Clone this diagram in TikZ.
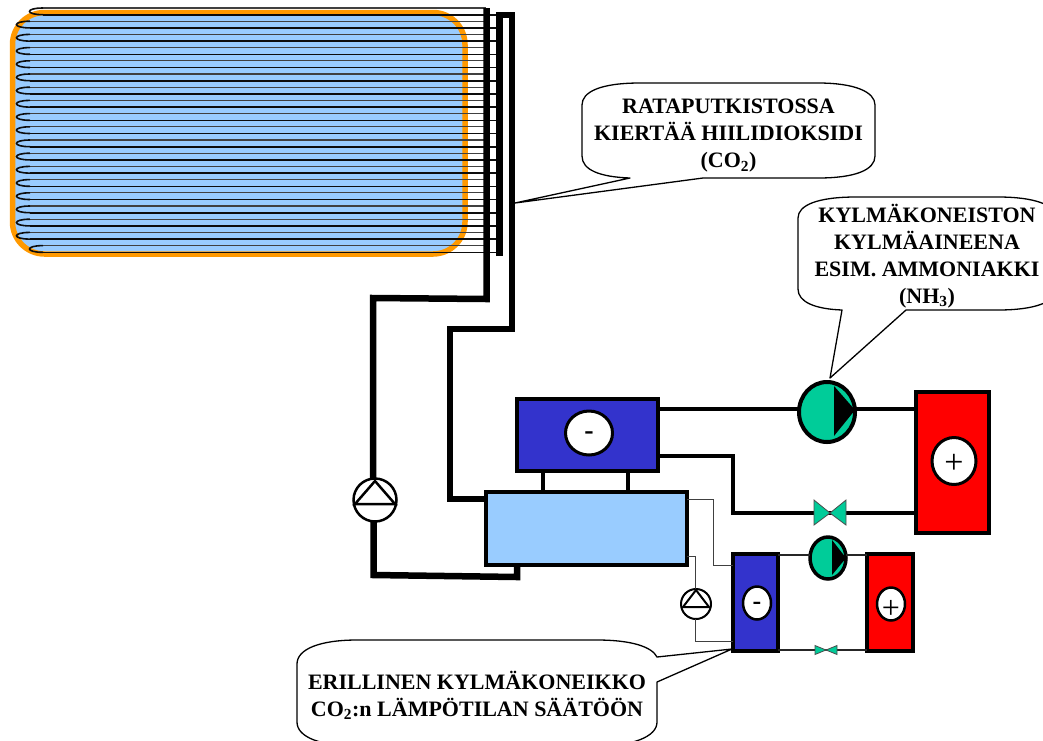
\documentclass[tikz,border=0pt]{standalone}
\usepackage{fontspec}
\setmainfont{Liberation Serif}
\usetikzlibrary{shapes.geometric}
\definecolor{panelblue}{HTML}{99CCFF}
\definecolor{edgeorange}{HTML}{FF9900}
\definecolor{deepblue}{HTML}{3333CC}
\definecolor{hotred}{HTML}{FF0000}
\definecolor{pumpgreen}{HTML}{00CC99}
\tikzset{
  boxst/.style={draw=black,line width=4pt,minimum width=#1,inner sep=0pt,outer sep=0pt},
  pipe/.style={draw=black,line width=6.5pt,line join=miter},
  midline/.style={draw=black,line width=3.5pt},
  thinline/.style={draw=black!75,line width=1pt},
  smline/.style={draw=black!85,line width=1.8pt},
  upcoil/.style={draw=black!75,line width=1.2pt},
  lowcoil/.style={draw=black!95,line width=1.6pt},
  badge/.style={ellipse,draw=black,fill=white,inner sep=0pt,outer sep=0pt},
  pumpst/.style={ellipse,draw=black,inner sep=0pt,outer sep=0pt},
  valvest/.style={draw=black!70,fill=pumpgreen,line width=.8pt,line join=miter},
  bubble/.style={draw=black,fill=white,line width=1.3pt,line join=round},
  calltext/.style={align=center,font=\bfseries\fontsize{22}{27}\selectfont,inner sep=0pt},
  sign/.style={font=\fontsize{34}{34}\selectfont,inner sep=0pt},
}
\begin{document}
\begin{tikzpicture}[x=1pt,y=-1pt]
\useasboundingbox (0,0) rectangle (1043,740);
\clip (0,0) rectangle (1043,740);
% solar panel
\draw[draw=edgeorange,fill=panelblue,line width=5.5pt,rounded corners=32pt] (12.5,12.5) rectangle (465,254);
% coil
\foreach \k in {0,...,18}{
  \pgfmathsetmacro{\yu}{8+13.2*\k}
  \pgfmathsetmacro{\yl}{\yu+6.7}
  \pgfmathsetmacro{\xs}{(\k==0||\k==18)?43:30}
  \pgfmathsetmacro{\xm}{(\k==0||\k==18)?28:15}
  \draw[upcoil] (486,\yu) -- (\xs,\yu);
  \draw[lowcoil] (\xs,\yu) .. controls (\xm-3,\yu) and (\xm-3,\yl) .. (\xs,\yl);
  \draw[lowcoil] (\xs,\yl) -- (497,\yl);
}
% main equipment
\node[boxst=141pt,minimum height=72pt,fill=deepblue] (evap) at (587.5,435) {};
\node[boxst=201pt,minimum height=73pt,fill=panelblue] (tank) at (586.5,528) {};
\node[boxst=73pt,minimum height=141pt,fill=hotred] (cond) at (952.5,462.5) {};
\node[badge,line width=3pt,minimum width=47pt,minimum height=44pt] (evapb) at (589,433) {};
\node[sign,font=\bfseries\fontsize{28}{28}\selectfont] (evaps) at (589,436) {-};
\node[badge,line width=3pt,minimum width=44pt,minimum height=47pt] (condb) at (954,461) {};
\node[sign] (conds) at (954,464) {+};
% small equipment
\node[boxst=45pt,minimum height=97pt,fill=deepblue,line width=3.5pt] (evapsm) at (755.5,602.5) {};
\node[boxst=46pt,minimum height=97pt,fill=hotred,line width=3.5pt] (condsm) at (890,602.5) {};
\node[badge,line width=2.5pt,minimum width=28pt,minimum height=33pt] (evapsmb) at (757,603) {};
\node[sign,font=\bfseries\fontsize{26}{26}\selectfont] (evapsms) at (757,606) {-};
\node[badge,line width=2.5pt,minimum width=28pt,minimum height=33pt] (condsmb) at (891,604) {};
\node[sign,font=\fontsize{32}{32}\selectfont] (condsms) at (891,609) {+};
% named points
\coordinate (c1top) at (486.5,8);
\coordinate (c1a) at (486.5,299);
\coordinate (c1b) at (373,298);
\coordinate (c2a) at (499.5,15);
\coordinate (c2b) at (499.5,256);
\coordinate (c3a) at (512,15);
\coordinate (c3b) at (512,329);
\coordinate (c3c) at (450,329);
\coordinate (c3d) at (450,499);
\coordinate (c4a) at (373.5,575);
\coordinate (c4b) at (517,577);
\coordinate (pmain) at (375,500);
\coordinate (v1) at (830,513);
\coordinate (v2) at (826,650);
% big pipes
\node[pumpst,fill=white,line width=2.5pt,minimum width=43pt,minimum height=43pt] (pump1) at (pmain) {};
\draw[pipe] (c1top) -- (c1a) -- (c1b) -- (pump1.north -| c1b);
\draw[pipe] (pump1.south -| c4a) -- (c4a) -- (c4b) -- (tank.south -| c4b);
\draw[pipe] (c2b) -- (c2a |- 0,12) ;
\draw[pipe] (c2a |- 0,15) -- (c3a |- 0,15);
\draw[pipe] (c3a |- 0,12) -- (c3b) -- (c3c) -- (c3d) -- (tank.west |- c3d);
\draw[draw=black,line width=2.5pt,line join=miter] (pump1.center) ++(0,-19) -- ++(-20,23) -- ++(40,0) -- cycle;
% evaporator to tank
\draw[midline,line width=4pt] (evap.south -| 543,0) -- (tank.north -| 543,0);
\draw[midline,line width=4pt] (evap.south -| 628,0) -- (tank.north -| 628,0);
% refrigerant circuit
\node[pumpst,fill=pumpgreen,line width=4pt,minimum width=56pt,minimum height=60pt] (pump2) at (827,412) {};
\draw[midline] (evap.east |- 0,409) -- (pump2.west |- 0,409);
\draw[midline] (pump2.east |- 0,409) -- (cond.west |- 0,409);
\fill[black] (834,386) -- (855,410) -- (834,436) -- cycle;
\draw[midline] (evap.east |- 0,456) -- (733,456) -- (733,513) -- (v1);
\draw[midline] (v1) -- (cond.west |- v1);
\draw[valvest] (v1) -- ++(-16,-13) -- ++(0,25) -- cycle (v1) -- ++(16,-13) -- ++(0,25) -- cycle;
% small circuit
\node[pumpst,fill=pumpgreen,line width=3.5pt,minimum width=36pt,minimum height=42pt] (pump3) at (828,558) {};
\draw[smline] (evapsm.east |- 0,555) -- (pump3.west |- 0,555);
\draw[smline] (pump3.east |- 0,555) -- (condsm.west |- 0,555);
\fill[black] (832,540) -- (846,558) -- (832,575) -- cycle;
\draw[smline] (evapsm.east |- v2) -- (condsm.west |- v2);
\draw[valvest] (v2) -- ++(-11,-4.5) -- ++(0,9) -- cycle (v2) -- ++(11,-4.5) -- ++(0,9) -- cycle;
% thin link circuit
\node[pumpst,fill=white,line width=2pt,minimum width=30pt,minimum height=30pt] (pump4) at (696,604) {};
\draw[thinline] (tank.east |- 0,499) -- (713,499) -- (713,565) -- (evapsm.west |- 0,565);
\draw[thinline] (tank.east |- 0,556) -- (695,556) -- (pump4.north -| 695,0);
\draw[thinline] (pump4.south -| 695,0) -- (695,641) -- (evapsm.west |- 0,641);
\draw[draw=black,line width=2pt,line join=miter] (pump4.center) ++(0,-14) -- ++(-13,17) -- ++(26,0) -- cycle;
% callouts
\coordinate (tip1) at (515,203);
\coordinate (tip2) at (830,378);
\coordinate (tip3) at (732,649);
\draw[bubble] (640,83) -- (818,83) .. controls (855,83) and (875,92) .. (875,105) -- (875,156)
  .. controls (875,170) and (855,178) .. (818,178) -- (703,178) -- (tip1) -- (630,178)
  .. controls (600,177) and (582,170) .. (582,156) -- (582,105) .. controls (582,92) and (600,83) .. (640,83) -- cycle;
\node[calltext] (t1) at (728.5,136) {RATAPUTKISTOSSA\\KIERTÄÄ HIILIDIOKSIDI\\(CO\textsubscript{2})};
\draw[bubble] (856,197) -- (998,197) .. controls (1035,197) and (1056,205) .. (1056,218) -- (1056,289)
  .. controls (1056,302) and (1035,310) .. (998,310) -- (906,310) -- (tip2) -- (842,310)
  .. controls (815,309) and (798,302) .. (798,289) -- (798,218) .. controls (798,205) and (818,197) .. (856,197) -- cycle;
\node[calltext] (t2) at (927,256) {KYLMÄKONEISTON\\KYLMÄAINEENA\\ESIM. AMMONIAKKI\\(NH\textsubscript{3})};
\draw[bubble] (357,640) -- (597,640) .. controls (632,640) and (652,647) .. (657,657) -- (tip3) -- (657,682) -- (657,722)
  .. controls (657,737) and (632,746) .. (597,746) -- (357,746) .. controls (320,746) and (297,737) .. (297,722) -- (297,664)
  .. controls (297,649) and (320,640) .. (357,640) -- cycle;
\node[calltext] (t3) at (477,695) {ERILLINEN KYLMÄKONEIKKO\\CO\textsubscript{2}:n LÄMPÖTILAN SÄÄTÖÖN};
\end{tikzpicture}
\end{document}
